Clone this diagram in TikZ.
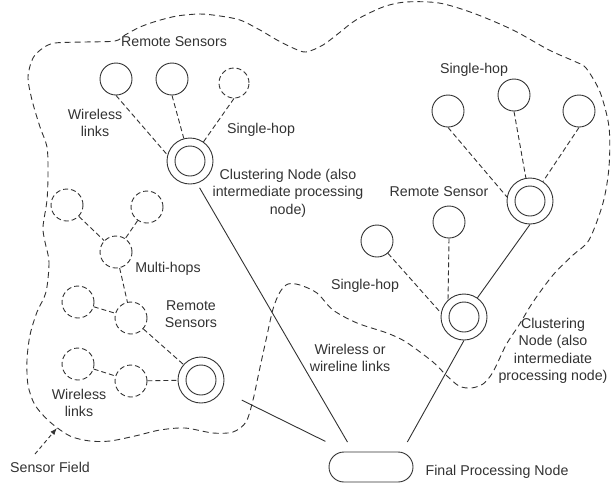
\documentclass[tikz,border=0pt]{standalone}
\usepackage{fontspec}
\setmainfont{Liberation Sans}
\usetikzlibrary{arrows.meta}
\definecolor{ink}{RGB}{50,50,50}
\begin{document}
\begin{tikzpicture}[x=1pt,y=-1pt,
  lbl/.style={font=\fontsize{14.2}{17.5}\selectfont, align=center, inner sep=0pt, text=ink},
  sensor/.style={circle, draw=ink, line width=0.9pt, minimum size=32pt, inner sep=0pt},
  dsensor/.style={sensor, dash pattern=on 5pt off 3pt},
  cluster/.style={circle, draw=ink, line width=0.9pt, minimum size=46pt, inner sep=0pt,
    path picture={\draw[ink, line width=0.9pt] (path picture bounding box.center) circle (15pt);}},
  wl/.style={draw=ink, line width=0.9pt, dash pattern=on 5pt off 3pt},
  wire/.style={draw=ink, line width=0.9pt},
  field/.style={draw=ink, line width=0.9pt, dash pattern=on 6pt off 4pt},
  final/.style={rectangle, rounded corners=15pt, draw=ink, line width=0.9pt, minimum width=84pt, minimum height=30pt}
]
\useasboundingbox (0,0) rectangle (612,483);

% sensor field boundary
\draw[field] plot[smooth cycle, tension=0.5] coordinates {
(45,242) (49,262) (46,292) (37,312) (30,335) (27,360) (28,385) (35,405) (50,422) (70,436)
(90,441) (110,441) (135,436) (160,430) (185,428) (213,433) (233,432) (246,422) (253,400)
(259,372) (266,340) (273,309) (280,292) (288,284) (300,285) (317,293) (333,310) (357,323)
(387,333) (406,342) (433,362) (446,375) (459,386) (471,388) (483,384) (493,372) (506,345)
(519,325) (533,302) (553,275) (573,255) (589,240) (603,203) (609,167) (609,127) (600,92)
(586,68) (576,62) (549,50) (513,30) (473,13) (439,3) (406,2) (383,7) (356,20) (339,33)
(323,45) (306,52) (293,48) (277,40) (260,30) (240,20) (220,16) (200,14) (177,16) (157,21)
(140,27) (125,35) (115,41) (85,42) (55,43) (43,48) (33,58) (28,77) (32,100) (40,127)
(47,147) (48,173) (47,200) (43,227)};

% nodes
\node[sensor] (s1) at (116,79) {};
\node[sensor] (s2) at (172,79) {};
\node[dsensor, minimum size=30pt] (s3) at (234,83) {};
\node[cluster] (c1) at (190,161) {};
\node[sensor] (a) at (448,111) {};
\node[sensor] (b) at (514,95) {};
\node[sensor] (c) at (579,111) {};
\node[cluster] (r1) at (530,201) {};
\node[sensor] (d) at (449,222) {};
\node[sensor] (e) at (377,241) {};
\node[cluster] (r2) at (464,317) {};
\node[dsensor] (m1) at (67,205) {};
\node[dsensor] (m2) at (147,207) {};
\node[dsensor] (m3) at (116,252) {};
\node[dsensor] (m4) at (78,302) {};
\node[dsensor] (m5) at (131,318) {};
\node[dsensor] (m6) at (78,364) {};
\node[dsensor] (m7) at (131,381) {};
\node[cluster] (l) at (201,380) {};
\node[final] (f) at (371,467) {};

% wireless links
\draw[wl] (s1.south) -- (c1.165);
\draw[wl] (s2.south) -- (c1);
\draw[wl] (s3.south) -- (c1);
\draw[wl] (a.south) -- (r1.170);
\draw[wl] (b.south) -- (r1);
\draw[wl] (c.south) -- (r1);
\draw[wl] (d.south) -- (r2.133);
\draw[wl] (e) -- (r2.170);
\draw[wl] (m1) -- (m3);
\draw[wl] (m2) -- (m3);
\draw[wl] (m3) -- (m5);
\draw[wl] (m4) -- (m5);
\draw[wl] (m5) -- (l);
\draw[wl] (m6) -- (m7);
\draw[wl] (m7) -- (l);

% wireless or wireline links
\draw[wire] (r1.south) -- (r2.55);
\draw[wire, shorten <=31pt, shorten >=11pt] ([xshift=-6pt]c1.center) -- ([xshift=-18pt]f.north);
\draw[wire, shorten <=22pt, shorten >=23pt] (l) -- ([xshift=-25pt]f.north);
\draw[wire, shorten >=11pt] (r2.south) -- ([xshift=31pt]f.north);

% labels
\node[lbl] (t1) at (174,42) {Remote Sensors};
\node[lbl] (t2) at (95,123) {Wireless\\links};
\node[lbl] (t3) at (261,130) {Single-hop};
\node[lbl] (t4) at (288,193) {Clustering Node (also\\intermediate processing\\node)};
\node[lbl] (t5) at (474,70) {Single-hop};
\node[lbl] (t6) at (439,192) {Remote Sensor};
\node[lbl] (t7) at (365,286) {Single-hop};
\node[lbl] (t8) at (350,358) {Wireless or\\wireline links};
\node[lbl] (t9) at (553,351) {Clustering\\Node (also\\intermediate\\processing node)};
\node[lbl] (t10) at (168,269) {Multi-hops};
\node[lbl] (t11) at (191,314) {Remote\\Sensors};
\node[lbl] (t12) at (79,403) {Wireless\\links};
\node[lbl] (sf) at (50,467) {Sensor Field};
\node[lbl] (t13) at (497,472) {Final Processing Node};

% sensor field pointer
\coordinate (sfa) at (35,454);
\coordinate (sfb) at (57,428);
\draw[ink, line width=0.9pt, dash pattern=on 4pt off 3pt, -{Latex[length=7pt,width=5pt]}] (sfa) -- (sfb);
\end{tikzpicture}
\end{document}
